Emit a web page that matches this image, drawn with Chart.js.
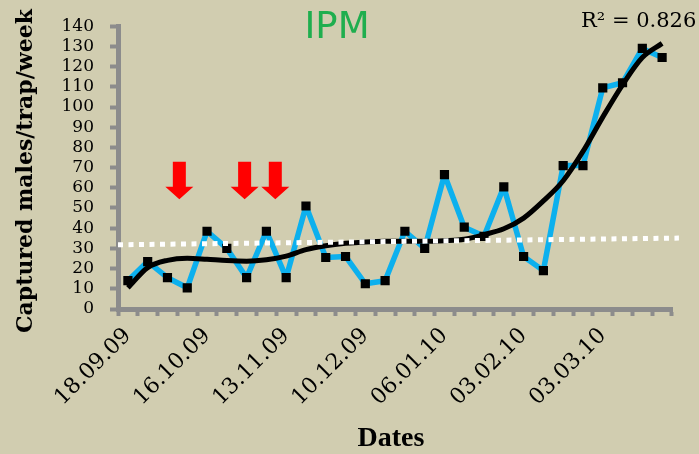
<!DOCTYPE html>
<html>
<head>
<meta charset="utf-8">
<script src="https://cdn.jsdelivr.net/npm/chart.js@4.4.1/dist/chart.umd.min.js"></script>
<style>
  html, body { margin: 0; padding: 0; background: #d1cdb0; }
  #wrap { width: 699px; height: 454px; }
</style>
</head>
<body>
<div id="wrap"><canvas id="c" width="699" height="454"></canvas></div>
<script>
// Weekly trap catches (IPM plot), one entry per weekly check
const dateLabels = [
  '18.09.09', '', '', '',
  '16.10.09', '', '', '',
  '13.11.09', '', '', '',
  '10.12.09', '', '', '',
  '06.01.10', '', '', '',
  '03.02.10', '', '', '',
  '03.03.10', '', '', ''
];
const captures = [
  14, 23.5, 15.5, 10.5, 38.5, 30, 15.5, 38.5, 15.5, 51,
  25.5, 26, 12.5, 14, 38.5, 30, 66.5, 40.5, 36, 60.5,
  26, 19, 71, 71, 109.5, 112, 129, 124.5
];
// Polynomial trend of the catches, one value per week
const polyTrend = [
  10.5, 20.5, 24.1, 25.1, 24.6, 24.0, 23.7, 24.4, 26.2, 29.4,
  31.3, 32.5, 33.2, 33.5, 33.5, 33.5, 33.8, 34.5, 36.8, 39.7,
  45, 53.5, 63.5, 78, 95, 111, 124.5, 131.5
];
// Reference trend line: [week index, catches] at both ends
const refTrendX = [-0.5, 27.85];
const refTrendY = [31.8, 35.1];
// Weeks (fractional index) marked with treatment arrows
const treatmentWeeks = [2.6, 5.9, 7.45];
const rSquared = '0.826';
const yTickValues = [0, 10, 20, 30, 40, 50, 60, 70, 80, 90, 100, 110, 120, 130, 140];

const AXIS_GREY = '#8c8c8c';

const paper = {
  id: 'paper',
  beforeDraw(chart) {
    const { ctx, width, height } = chart;
    ctx.save();
    ctx.fillStyle = '#d1cdb0';
    ctx.fillRect(0, 0, width, height);
    ctx.restore();
  }
};

const notes = {
  id: 'notes',
  afterDraw(chart) {
    const { ctx, scales } = chart;
    const xw = scales.x2, y = scales.y;
    ctx.save();

    // red treatment arrows
    ctx.fillStyle = '#ff0000';
    treatmentWeeks.forEach(w => {
      const cx = xw.getPixelForValue(w);
      const top = y.getPixelForValue(72.9);
      const neck = y.getPixelForValue(60.5);
      const tip = y.getPixelForValue(54.3);
      ctx.beginPath();
      ctx.moveTo(cx - 6.5, top);
      ctx.lineTo(cx + 6.5, top);
      ctx.lineTo(cx + 6.5, neck);
      ctx.lineTo(cx + 14, neck);
      ctx.lineTo(cx, tip);
      ctx.lineTo(cx - 14, neck);
      ctx.lineTo(cx - 6.5, neck);
      ctx.closePath();
      ctx.fill();
    });

    // plot title
    ctx.fillStyle = '#1fae4e';
    ctx.font = '37px "DejaVu Sans"';
    ctx.textAlign = 'center';
    ctx.textBaseline = 'middle';
    ctx.fillText('IPM', 337, 28);

    // R squared of the polynomial trend
    ctx.fillStyle = '#000';
    ctx.font = '21px "DejaVu Serif"';
    ctx.textAlign = 'left';
    ctx.textBaseline = 'alphabetic';
    ctx.fillText('R² = ' + rSquared, 581, 27);

    // axis titles
    ctx.font = 'bold 28px "Liberation Serif"';
    ctx.textAlign = 'center';
    ctx.textBaseline = 'middle';
    ctx.fillText('Dates', 391, 439);

    ctx.translate(26, 171);
    ctx.rotate(-Math.PI / 2);
    ctx.font = 'bold 22px "DejaVu Serif"';
    ctx.fillText('Captured males/trap/week', 0, 0);
    ctx.restore();
  }
};

const ctx = document.getElementById('c').getContext('2d');
new Chart(ctx, {
  type: 'line',
  data: {
    labels: dateLabels,
    datasets: [
      {
        label: 'Reference trend',
        xAxisID: 'x2',
        data: refTrendX.map((x, i) => ({ x, y: refTrendY[i] })),
        borderColor: '#ffffff',
        borderWidth: 5,
        borderDash: [5, 5.5],
        borderCapStyle: 'butt',
        pointRadius: 0,
        clip: false,
        order: 0
      },
      {
        label: 'Polynomial trend',
        xAxisID: 'x2',
        data: polyTrend.map((v, i) => ({ x: i, y: v })),
        borderColor: '#000000',
        borderWidth: 5,
        cubicInterpolationMode: 'monotone',
        pointRadius: 0,
        order: 1
      },
      {
        label: 'Captures',
        xAxisID: 'x',
        data: captures,
        borderColor: '#0cb0ee',
        borderWidth: 5.5,
        borderJoinStyle: 'round',
        tension: 0,
        pointStyle: 'rect',
        pointRadius: 6.5,
        pointBackgroundColor: '#000000',
        pointBorderWidth: 0,
        order: 2
      }
    ]
  },
  options: {
    responsive: false,
    animation: false,
    devicePixelRatio: 1,
    layout: { padding: { top: 15, right: 27, left: 0, bottom: 0 } },
    plugins: { legend: { display: false }, tooltip: { enabled: false } },
    scales: {
      x: {
        type: 'category',
        offset: true,
        afterFit(s) { s.height = 145; },
        grid: {
          offset: true,
          drawOnChartArea: false,
          drawTicks: true,
          tickLength: 7,
          tickWidth: 4,
          tickColor: AXIS_GREY
        },
        border: { display: true, color: AXIS_GREY, width: 5 },
        ticks: {
          autoSkip: false,
          minRotation: 45,
          maxRotation: 45,
          padding: 7,
          color: '#000',
          font: { family: 'DejaVu Serif', size: 22 }
        }
      },
      x2: {
        type: 'linear',
        display: false,
        min: -0.5,
        max: 27.5
      },
      y: {
        min: 0,
        max: 140,
        afterFit(s) { s.width = 118; },
        afterBuildTicks(s) { s.ticks = yTickValues.map(v => ({ value: v })); },
        grid: {
          drawOnChartArea: false,
          drawTicks: true,
          tickLength: 8,
          tickWidth: 4,
          tickColor: AXIS_GREY
        },
        border: { display: true, color: AXIS_GREY, width: 5 },
        ticks: {
          autoSkip: false,
          padding: 16,
          color: '#000',
          font: { family: 'DejaVu Serif', size: 17 }
        }
      }
    }
  },
  plugins: [paper, notes]
});
</script>
</body>
</html>
